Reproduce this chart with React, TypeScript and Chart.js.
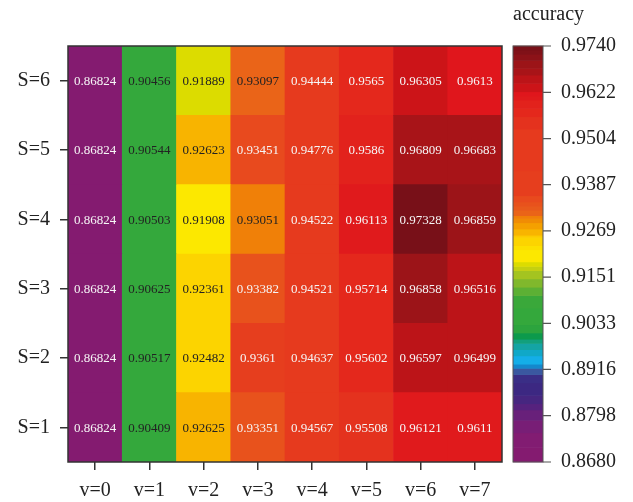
import React, { useEffect, useRef } from "react";
import { Chart, registerables } from "chart.js";
Chart.register(...registerables);

const colLabels = ["v=0", "v=1", "v=2", "v=3", "v=4", "v=5", "v=6", "v=7"];
const rowLabels = ["S=1", "S=2", "S=3", "S=4", "S=5", "S=6"];

const rowS1 = [0.86824, 0.90409, 0.92625, 0.93351, 0.94567, 0.95508, 0.96121, 0.9611];
const rowS2 = [0.86824, 0.90517, 0.92482, 0.9361, 0.94637, 0.95602, 0.96597, 0.96499];
const rowS3 = [0.86824, 0.90625, 0.92361, 0.93382, 0.94521, 0.95714, 0.96858, 0.96516];
const rowS4 = [0.86824, 0.90503, 0.91908, 0.93051, 0.94522, 0.96113, 0.97328, 0.96859];
const rowS5 = [0.86824, 0.90544, 0.92623, 0.93451, 0.94776, 0.9586, 0.96809, 0.96683];
const rowS6 = [0.86824, 0.90456, 0.91889, 0.93097, 0.94444, 0.9565, 0.96305, 0.9613];
const rows = [rowS1, rowS2, rowS3, rowS4, rowS5, rowS6];

const cbTitle = "accuracy";
const cbMin = 0.868;
const cbMax = 0.974;
const cbTicks = [0.868, 0.8798, 0.8916, 0.9033, 0.9151, 0.9269, 0.9387, 0.9504, 0.9622, 0.974];

// stepped colormap: [lower bound as fraction of range, colour]
const colorBins: [number, string][] = [
  [0.0, "#841b70"],
  [0.035, "#821c72"],
  [0.07, "#781e76"],
  [0.1, "#68207a"],
  [0.125, "#56227e"],
  [0.14, "#462680"],
  [0.16, "#3c2882"],
  [0.19, "#3a2e86"],
  [0.21, "#3a58a0"],
  [0.225, "#1488cc"],
  [0.235, "#14aee8"],
  [0.255, "#10a8c8"],
  [0.27, "#14a4a4"],
  [0.285, "#12a07c"],
  [0.295, "#0c9a4c"],
  [0.31, "#2ca43e"],
  [0.33, "#34a83c"],
  [0.37, "#3aa83a"],
  [0.4, "#5cb034"],
  [0.42, "#80b82c"],
  [0.44, "#a4c420"],
  [0.46, "#c4d010"],
  [0.47, "#dcdc00"],
  [0.481, "#fce800"],
  [0.51, "#fce000"],
  [0.52, "#fcd400"],
  [0.54, "#fcca00"],
  [0.545, "#f8b400"],
  [0.56, "#f4a000"],
  [0.575, "#f08c04"],
  [0.585, "#f08008"],
  [0.592, "#ea6418"],
  [0.605, "#e85a1c"],
  [0.615, "#e8521c"],
  [0.625, "#e84a1e"],
  [0.64, "#e63e1e"],
  [0.7, "#e63a1e"],
  [0.8, "#e4321e"],
  [0.83, "#e4281c"],
  [0.85, "#e2221c"],
  [0.87, "#e01a1c"],
  [0.88, "#e0161c"],
  [0.89, "#cc1418"],
  [0.91, "#bc1418"],
  [0.93, "#a81418"],
  [0.946, "#9c1418"],
  [0.965, "#8c1218"],
  [0.98, "#801118"],
  [0.99, "#781018"],
];

function colorFor(v: number): string {
  const f = (v - cbMin) / (cbMax - cbMin);
  let c = colorBins[0][1];
  for (const [t, col] of colorBins) if (f >= t) c = col;
  return c;
}

function lum(hex: string): number {
  const h = hex.replace("#", "");
  const ch = [0, 2, 4].map((i) => {
    const c = parseInt(h.substr(i, 2), 16) / 255;
    return c <= 0.03928 ? c / 12.92 : Math.pow((c + 0.055) / 1.055, 2.4);
  });
  return 0.2126 * ch[0] + 0.7152 * ch[1] + 0.0722 * ch[2];
}

const FONT = "'Liberation Serif', 'Times New Roman', serif";

const zeroPad = (s: any) => {
  s.paddingTop = 0;
  s.paddingBottom = 0;
  s.paddingLeft = 0;
  s.paddingRight = 0;
};

const heatPlugin = {
  id: "heatDecor",
  afterDatasetsDraw(chart: any) {
    const ctx = chart.ctx;
    const area = chart.chartArea;
    ctx.save();
    // cell labels
    ctx.font = `13px ${FONT}`;
    ctx.textAlign = "center";
    ctx.textBaseline = "middle";
    rows.forEach((r, i) => {
      const meta = chart.getDatasetMeta(i);
      meta.data.forEach((el: any, j: number) => {
        const col = colorFor(r[j]);
        ctx.fillStyle = lum(col) > 0.25 ? "#222222" : "#f6f6f6";
        ctx.fillText(String(r[j]), el.x, (el.y + el.base) / 2 + 1);
      });
    });
    // plot frame
    ctx.strokeStyle = "#333333";
    ctx.lineWidth = 1.5;
    ctx.strokeRect(area.left, area.top, area.right - area.left, area.bottom - area.top);

    // colour bar
    const cb = chart.scales.cb;
    const x0 = area.right + 11;
    const w = 30;
    colorBins.forEach(([t, col], k) => {
      const tNext = k + 1 < colorBins.length ? colorBins[k + 1][0] : 1;
      const vLo = cbMin + t * (cbMax - cbMin);
      const vHi = cbMin + tNext * (cbMax - cbMin);
      const yLo = cb.getPixelForValue(vLo);
      const yHi = cb.getPixelForValue(vHi);
      ctx.fillStyle = col;
      ctx.fillRect(x0, yHi - 0.3, w, yLo - yHi + 0.6);
    });
    ctx.strokeStyle = "#555555";
    ctx.lineWidth = 1;
    ctx.strokeRect(x0, cb.top, w, cb.bottom - cb.top);
    ctx.lineWidth = 1.2;
    ctx.beginPath();
    cbTicks.forEach((v) => {
      const y = cb.getPixelForValue(v);
      ctx.moveTo(x0 + w, y);
      ctx.lineTo(x0 + w + 8, y);
    });
    ctx.stroke();
    // colour bar title
    ctx.fillStyle = "#222222";
    ctx.font = `20px ${FONT}`;
    ctx.textAlign = "left";
    ctx.textBaseline = "alphabetic";
    ctx.fillText(cbTitle, x0, 20);
    ctx.restore();
  },
};

export default function App() {
  const ref = useRef<HTMLCanvasElement>(null);
  useEffect(() => {
    if (!ref.current) return;
    const chart = new Chart(ref.current, {
      type: "bar",
      data: {
        labels: colLabels,
        datasets: rows.map((r, i) => ({
          label: rowLabels[i],
          data: r.map(() => 1),
          backgroundColor: r.map(colorFor),
          borderWidth: 0,
          barPercentage: 1,
          categoryPercentage: 1,
        })),
      },
      options: {
        animation: false,
        responsive: true,
        maintainAspectRatio: false,
        layout: { padding: { top: 46, left: 0, right: 0, bottom: 0 } },
        plugins: { legend: { display: false }, tooltip: { enabled: false }, title: { display: false } },
        scales: {
          x: {
            stacked: true,
            grid: { display: true, drawOnChartArea: false, drawTicks: true, tickLength: 8, offset: false, color: "#333333", lineWidth: 1.5 },
            border: { display: false },
            ticks: { color: "#222222", font: { family: FONT, size: 20 }, padding: 9, maxRotation: 0 },
            afterFit: (s: any) => { s.height = 40; zeroPad(s); },
          },
          y: {
            type: "linear",
            stacked: true,
            min: 0,
            max: 6,
            afterBuildTicks: (s: any) => { s.ticks = rowLabels.map((_, i) => ({ value: i + 0.5 })); },
            grid: { display: true, drawOnChartArea: false, drawTicks: true, tickLength: 8, color: "#333333", lineWidth: 1.5 },
            border: { display: false },
            ticks: {
              color: "#222222",
              font: { family: FONT, size: 20 },
              padding: 10,
              callback: (_v: any, i: number) => rowLabels[i],
            },
            afterFit: (s: any) => { s.width = 68; zeroPad(s); },
          },
          cb: {
            type: "linear",
            position: "right",
            min: cbMin,
            max: cbMax,
            afterBuildTicks: (s: any) => { s.ticks = cbTicks.map((v) => ({ value: v })); },
            grid: { display: false, drawTicks: false },
            border: { display: false },
            ticks: {
              color: "#222222",
              font: { family: FONT, size: 20 },
              padding: 59,
              callback: (v: any) => Number(v).toFixed(4),
            },
            afterFit: (s: any) => { s.width = 131; zeroPad(s); },
          },
        },
      },
      plugins: [heatPlugin],
    } as any);
    return () => chart.destroy();
  }, []);
  return (
    <div style={{ position: "fixed", left: 0, top: 0, width: 633, height: 502, background: "#ffffff" }}>
      <canvas ref={ref} />
    </div>
  );
}
